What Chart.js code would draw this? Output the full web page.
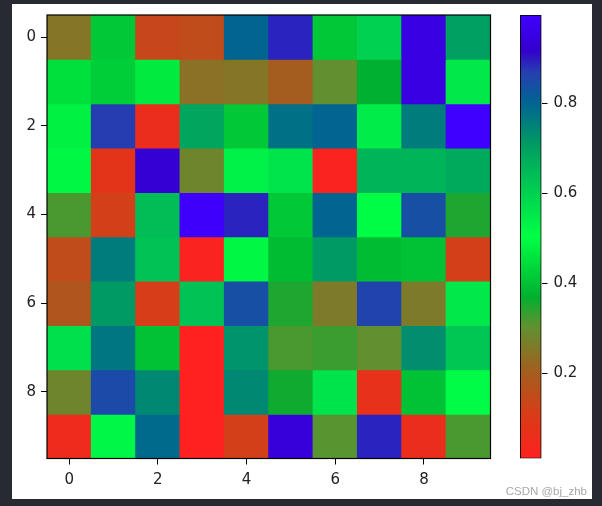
<!DOCTYPE html>
<html>
<head>
<meta charset="utf-8">
<script src="https://cdn.jsdelivr.net/npm/chart.js@4"></script>
<style>
  html, body { margin: 0; padding: 0; }
  body { width: 602px; height: 506px; background: #282a31; position: relative; overflow: hidden; }
  #paper { position: absolute; left: 12px; top: 4px; width: 580px; height: 495px; background: #fff; }
  #heat { position: absolute; left: 0; top: 0; }
  #cbar { position: absolute; left: 500px; top: 0; }
  #mark { position: absolute; right: 5px; top: 481px; font: 11.5px "Liberation Sans", Arial, sans-serif; color: #a8a8a8; }
</style>
</head>
<body>
<div id="paper">
  <canvas id="heat" width="493" height="495"></canvas>
  <canvas id="cbar" width="80" height="495"></canvas>
  <div id="mark">CSDN @bj_zhb</div>
</div>
<script>
(function(){

  // rows top to bottom, columns left to right
  const ROWS = [0, 1, 2, 3, 4, 5, 6, 7, 8, 9];
  const COLS = [0, 1, 2, 3, 4, 5, 6, 7, 8, 9];
  const values = [
    [0.25, 0.41, 0.14, 0.15, 0.80, 0.89, 0.41, 0.60, 0.95, 0.70],
    [0.45, 0.42, 0.47, 0.24, 0.25, 0.20, 0.30, 0.37, 0.95, 0.55],
    [0.48, 0.87, 0.06, 0.69, 0.41, 0.78, 0.80, 0.54, 0.76, 0.996],
    [0.49, 0.08, 0.93, 0.28, 0.53, 0.56, 0.02, 0.66, 0.66, 0.68],
    [0.32, 0.12, 0.64, 0.99, 0.89, 0.41, 0.80, 0.50, 0.84, 0.35],
    [0.15, 0.76, 0.63, 0.02, 0.49, 0.39, 0.71, 0.39, 0.40, 0.12],
    [0.18, 0.71, 0.11, 0.63, 0.84, 0.35, 0.26, 0.86, 0.26, 0.55],
    [0.57, 0.77, 0.40, 0.01, 0.72, 0.32, 0.33, 0.30, 0.73, 0.62],
    [0.28, 0.85, 0.74, 0.01, 0.74, 0.36, 0.56, 0.07, 0.40, 0.51],
    [0.05, 0.52, 0.79, 0.01, 0.12, 0.94, 0.31, 0.89, 0.06, 0.32]
  ];
  const axisTicks = [0, 2, 4, 6, 8];
  const barTicks = [0.2, 0.4, 0.6, 0.8];

  // colormap (position 0..1 -> colour)
  const cmapPos = [0, 0.1, 0.2, 0.3, 0.365, 0.5, 0.6, 0.7, 0.8, 0.87, 0.92, 1];
  const cmapCol = ['#ff2020', '#d83c18', '#a06020', '#5e9230', '#00b030', '#00ff45',
                   '#00d050', '#00a060', '#006590', '#2540b0', '#3300cc', '#4000ff'];

  const flat = values.flat();
  const vmin = Math.min(...flat);
  const vmax = Math.max(...flat);

  function hexRgb(h) {
    return [parseInt(h.slice(1, 3), 16), parseInt(h.slice(3, 5), 16), parseInt(h.slice(5, 7), 16)];
  }
  function cmap(v) {
    const t = Math.max(0, Math.min(1, (v - vmin) / (vmax - vmin)));
    let i = 0;
    while (i < cmapPos.length - 2 && t > cmapPos[i + 1]) i++;
    const f = (t - cmapPos[i]) / (cmapPos[i + 1] - cmapPos[i]);
    const a = hexRgb(cmapCol[i]), b = hexRgb(cmapCol[i + 1]);
    const c = a.map((x, k) => Math.round(x + (b[k] - x) * f));
    return 'rgb(' + c.join(',') + ')';
  }

  const tickFont = { family: '"DejaVu Sans", sans-serif', size: 15 };

  // keep tick labels from pushing the plot area around
  function noPad(s) {
    s.paddingTop = 0; s.paddingBottom = 0; s.paddingLeft = 0; s.paddingRight = 0;
  }

  const frame = {
    id: 'frame',
    afterDraw(chart) {
      const a = chart.chartArea, ctx = chart.ctx;
      ctx.save();
      ctx.strokeStyle = '#000';
      ctx.lineWidth = 1.2;
      ctx.strokeRect(a.left, a.top, a.right - a.left, a.bottom - a.top);
      ctx.restore();
    }
  };

  new Chart(document.getElementById('heat'), {
    type: 'bar',
    data: {
      datasets: ROWS.map(r => ({
        data: COLS.map(c => ({ x: c, y: [r - 0.5, r + 0.5] })),
        backgroundColor: COLS.map(c => cmap(values[r][c])),
        borderWidth: 0,
        inflateAmount: 0.5,
        grouped: false,
        barPercentage: 1,
        categoryPercentage: 1
      }))
    },
    options: {
      responsive: false,
      animation: false,
      layout: { padding: { left: 0, top: 11, right: 14.5, bottom: 0 } },
      plugins: { legend: { display: false }, tooltip: { enabled: false } },
      scales: {
        x: {
          type: 'linear', min: -0.5, max: 9.5, offset: false,
          afterBuildTicks: s => { s.ticks = axisTicks.map(v => ({ value: v })); },
          afterFit: s => { s.height = 40.5; noPad(s); },
          grid: { offset: false, drawOnChartArea: false, drawTicks: true, tickLength: 6, color: '#000' },
          border: { display: false },
          ticks: { color: '#222', font: tickFont, padding: 7, maxRotation: 0 }
        },
        y: {
          type: 'linear', min: -0.5, max: 9.5, reverse: true,
          afterBuildTicks: s => { s.ticks = axisTicks.map(v => ({ value: v })); },
          afterFit: s => { s.width = 35; noPad(s); },
          grid: { drawOnChartArea: false, drawTicks: true, tickLength: 6, color: '#000' },
          border: { display: false },
          ticks: { color: '#222', font: tickFont, padding: 5 }
        }
      }
    },
    plugins: [frame]
  });

  // colour bar
  new Chart(document.getElementById('cbar'), {
    type: 'bar',
    data: {
      labels: [''],
      datasets: [{
        data: [[vmin, vmax]],
        backgroundColor: function(context) {
          const chart = context.chart;
          if (!chart.chartArea) return '#888';
          const ys = chart.scales.y;
          const g = chart.ctx.createLinearGradient(0, ys.getPixelForValue(vmin), 0, ys.getPixelForValue(vmax));
          cmapPos.forEach((p, i) => g.addColorStop(p, cmapCol[i]));
          return g;
        },
        borderColor: '#000',
        borderWidth: 1.2,
        borderSkipped: false,
        barPercentage: 1,
        categoryPercentage: 1
      }]
    },
    options: {
      responsive: false,
      animation: false,
      layout: { padding: { left: 8, top: 11, right: 0, bottom: 40.5 } },
      plugins: { legend: { display: false }, tooltip: { enabled: false } },
      scales: {
        x: { display: false },
        y: {
          position: 'right', min: vmin, max: vmax,
          afterBuildTicks: s => { s.ticks = barTicks.map(v => ({ value: v })); },
          afterFit: s => { s.width = 50.5; noPad(s); },
          grid: { drawOnChartArea: false, drawTicks: true, tickLength: 6, color: '#000' },
          border: { display: false },
          ticks: { color: '#222', font: tickFont, padding: 6, callback: v => v.toFixed(1) }
        }
      }
    }
  });

})();
</script>
</body>
</html>
